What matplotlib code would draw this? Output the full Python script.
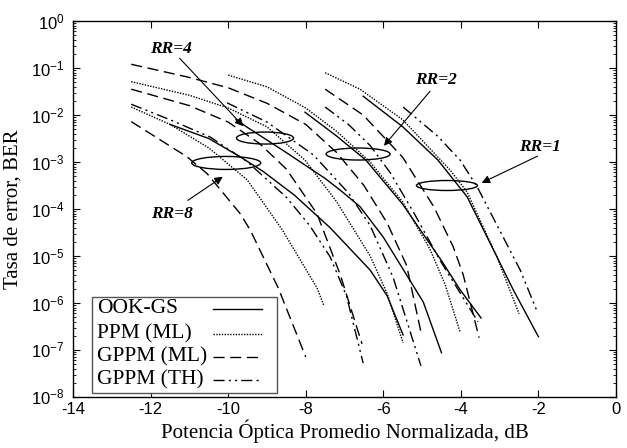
import matplotlib
matplotlib.use("Agg")
import matplotlib.pyplot as plt
import numpy as np
from matplotlib.patches import Ellipse, Rectangle

plt.rcParams['mathtext.fontset'] = 'custom'
plt.rcParams['mathtext.rm'] = 'Liberation Sans'
plt.rcParams['mathtext.it'] = 'Liberation Sans:italic'

# curves: (power dB, log10 BER)
curves = {
    'RR8': {
        'OOK': ([-11.5, -10.5, -9.69, -9.1, -8.3, -7.37, -6.34, -5.9, -5.49],
                [-2.2, -2.5, -2.89, -3.2, -3.7, -4.4, -5.3, -5.85, -6.68]),
        'PPM': ([-12.5, -11.5, -10.5, -9.51, -8.6, -7.71, -7.53],
                [-1.83, -2.2, -2.7, -3.38, -4.45, -5.68, -6.06]),
        'GML': ([-12.5, -11.06, -10.54, -9.69, -9.43, -8.71, -8.0],
                [-2.14, -2.89, -3.25, -4.1, -4.45, -5.68, -7.15]),
        'GTH': ([-12.5, -11.5, -10.46, -9.5, -8.5, -7.9, -7.37, -6.95, -6.52],
                [-1.77, -2.1, -2.47, -3.0, -3.75, -4.35, -5.02, -5.85, -7.28]),
    },
    'RR4': {
        'OOK': ([-9.8, -9.51, -8.5, -7.5, -7.11, -6.6, -6.0, -4.97, -4.5],
                [-2.1, -2.26, -2.8, -3.35, -3.6, -3.95, -4.6, -5.98, -7.06]),
        'PPM': ([-12.5, -11.0, -10.0, -9.0, -8.02, -7.2, -6.34, -5.9, -5.49],
                [-1.29, -1.58, -1.85, -2.25, -2.96, -3.85, -5.0, -5.8, -6.85]),
        'GML': ([-12.5, -11.0, -10.0, -9.2, -8.5, -7.71, -7.11, -6.55],
                [-1.45, -1.8, -2.15, -2.6, -3.15, -4.1, -5.4, -6.87]),
        'GTH': ([-10.03, -9.0, -7.8, -6.9, -6.34, -5.75, -5.03],
                [-1.74, -2.15, -2.85, -3.66, -4.35, -5.45, -7.34]),
    },
    'RR2': {
        'OOK': ([-8.02, -7.2, -6.45, -5.5, -4.5, -4.02, -3.48],
                [-1.94, -2.45, -2.96, -3.9, -5.1, -5.72, -6.32]),
        'PPM': ([-10.0, -9.0, -8.0, -7.2, -6.34, -5.5, -4.8, -4.41, -4.02],
                [-1.15, -1.4, -1.85, -2.35, -3.0, -3.85, -4.85, -5.6, -6.62]),
        'GML': ([-12.5, -11.0, -10.0, -9.0, -8.0, -7.2, -6.5, -5.9, -5.4, -5.03],
                [-0.92, -1.2, -1.42, -1.75, -2.2, -2.8, -3.5, -4.3, -5.2, -6.62]),
        'GTH': ([-7.5, -6.9, -6.34, -5.82, -5.2, -4.54, -3.56],
                [-1.83, -2.2, -2.65, -3.23, -4.1, -5.09, -6.4]),
    },
    'RR1': {
        'OOK': ([-6.52, -5.5, -4.59, -3.84, -3.07, -2.65, -2.0],
                [-1.6, -2.25, -2.96, -3.74, -5.02, -5.72, -6.72]),
        'PPM': ([-7.5, -6.6, -5.5, -4.28, -3.84, -3.07, -2.5],
                [-1.1, -1.45, -2.1, -3.17, -3.64, -5.02, -6.23]),
        'GML': ([-7.5, -6.52, -5.5, -4.7, -4.2, -3.94, -3.53],
                [-1.45, -2.0, -2.9, -3.95, -4.8, -5.4, -6.74]),
        'GTH': ([-5.49, -4.6, -4.02, -3.58, -2.47, -2.03],
                [-1.83, -2.45, -2.96, -3.53, -5.3, -6.19]),
    },
}

legend_labels = ['OOK-GS', 'PPM (ML)', 'GPPM (ML)', 'GPPM (TH)']
kinds = ['OOK', 'PPM', 'GML', 'GTH']
styles = {
    'OOK': '-',
    'PPM': (0, (1, 1)),
    'GML': (0, (8, 4)),
    'GTH': (0, (8, 3, 1.5, 3, 1.5, 3)),
}

# ellipse centers (dB, log10 BER), annotation text/arrow positions
groups = ['RR=1', 'RR=2', 'RR=4', 'RR=8']
ell_x = [-4.36, -6.65, -9.05, -10.05]
ell_y = [-3.5, -2.83, -2.49, -3.02]
ell_w = [61, 64, 57, 69]
ell_h = [10, 12, 12, 13]
txt_x = [-1.96, -4.64, -11.47, -11.44]
txt_y = [-2.68, -1.26, -0.6, -4.11]
tail_x = [-1.96, -4.75, -11.3, -11.1]
tail_y = [-2.85, -1.45, -0.75, -3.85]
head_x = [-3.53, -6.03, -9.56, -10.08]
head_y = [-3.47, -2.70, -2.28, -3.28]

xticks = [-14, -12, -10, -8, -6, -4, -2, 0]
yticks = [1e-8, 1e-7, 1e-6, 1e-5, 1e-4, 1e-3, 1e-2, 1e-1, 1e0]
yticklabels = [r'$10^{-8}$', r'$10^{-7}$', r'$10^{-6}$', r'$10^{-5}$', r'$10^{-4}$',
               r'$10^{-3}$', r'$10^{-2}$', r'$10^{-1}$', r'$10^{0}$']

fig = plt.figure(figsize=(6.27, 4.48), dpi=100)
ax = fig.add_axes([0.1165, 0.114, 0.866, 0.839])

for g in ['RR8', 'RR4', 'RR2', 'RR1']:
    for k in kinds:
        xs, ls = curves[g][k]
        ax.plot(xs, 10.0 ** np.array(ls), color='black', lw=1.0,
                linestyle=styles[k])

ax.set_xlim(-14, 0)
ax.set_ylim(1e-8, 1)
ax.set_yscale('log')
ax.set_xticks(xticks)
ax.set_xticklabels([str(t) for t in xticks], family='Liberation Sans', fontsize=12)
ax.set_yticks(yticks)
ax.set_yticklabels(yticklabels, fontsize=12)
ax.tick_params(which='both', direction='in', top=True, right=True)
ax.tick_params(which='major', length=5)
ax.tick_params(which='minor', length=2.5)
ax.tick_params(axis='y', pad=6)
for s in ax.spines.values():
    s.set_linewidth(1.0)

ax.set_xlabel('Potencia Óptica Promedio Normalizada, dB',
              family='Liberation Serif', fontsize=15, labelpad=2)
ax.set_ylabel('Tasa de error, BER', family='Liberation Serif', fontsize=15,
              labelpad=6)

fig.canvas.draw()
to_ax = ax.transAxes.inverted()
bbox = ax.get_window_extent()
for i, name in enumerate(groups):
    cx, cy = to_ax.transform(ax.transData.transform((ell_x[i], 10 ** ell_y[i])))
    e = Ellipse((cx, cy), ell_w[i] / bbox.width, ell_h[i] / bbox.height,
                transform=ax.transAxes, fill=False, ec='black', lw=1.0)
    ax.add_patch(e)
    ax.annotate('', xy=(head_x[i], 10 ** head_y[i]),
                xytext=(tail_x[i], 10 ** tail_y[i]),
                arrowprops=dict(arrowstyle='-|>', color='black', lw=0.8,
                                mutation_scale=12))
    ax.text(txt_x[i], 10 ** txt_y[i], name, family='Liberation Serif',
            fontsize=12.5, fontweight='bold', fontstyle='italic',
            ha='center', va='center')

# legend box drawn by hand, text left aligned and line sample on the right
ax.add_patch(Rectangle((0.035, 0.0106), 0.3407, 0.2554, transform=ax.transAxes,
                       fill=True, fc='white', ec='#555555', lw=1.0, zorder=5))
row_y = [0.234, 0.1676, 0.1064, 0.0452]
for i, k in enumerate(kinds):
    ax.text(0.0442, row_y[i], legend_labels[i], transform=ax.transAxes,
            family='Liberation Serif', fontsize=15.5, va='center', ha='left',
            zorder=6)
    ax.plot([0.258, 0.348], [row_y[i], row_y[i]], transform=ax.transAxes,
            color='black', lw=1.0, linestyle=styles[k], zorder=6)

fig.savefig('out.png', dpi=100)
